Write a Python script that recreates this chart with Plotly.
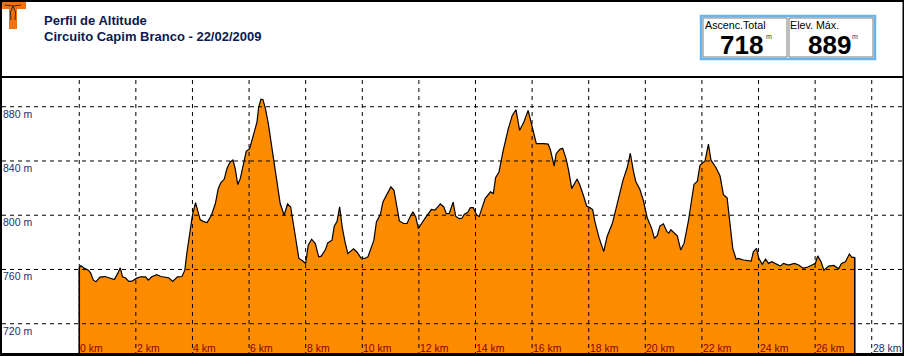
import plotly.graph_objects as go

W = 904
H = 356

km = [0, .06, .17, .32, .40, .50, .59, .73, .91, 1.09, 1.24, 1.36, 1.45, 1.53, 1.63, 1.75, 1.86, 2.03, 2.17, 2.34,
      2.44, 2.56, 2.74, 2.88, 3.03, 3.16, 3.30, 3.47, 3.63, 3.73, 3.80, 3.87, 3.94, 4.00, 4.11, 4.17, 4.27, 4.39, 4.52, 4.67,
      4.81, 4.91, 5.00, 5.12, 5.22, 5.33, 5.43, 5.51, 5.60, 5.69, 5.81, 5.90, 6.02, 6.18, 6.28, 6.34, 6.42, 6.49, 6.58, 6.68,
      6.80, 6.91, 7.01, 7.10, 7.24, 7.36, 7.47, 7.55, 7.65, 7.76, 7.89, 8.00, 8.09, 8.21, 8.34, 8.46, 8.55, 8.70, 8.78, 8.93,
      9.01, 9.11, 9.20, 9.29, 9.39, 9.49, 9.69, 9.82, 9.95, 10.09, 10.20, 10.32, 10.41, 10.50, 10.64, 10.73, 10.85, 11.01, 11.12, 11.22,
      11.31, 11.46, 11.58, 11.70, 11.79, 11.89, 11.98, 12.21, 12.44, 12.57, 12.76, 12.88, 12.97, 13.07, 13.21, 13.30, 13.42, 13.52, 13.61, 13.73,
      13.82, 13.92, 14.04, 14.13, 14.25, 14.34, 14.53, 14.63, 14.71, 14.83, 14.98, 15.16, 15.30, 15.43, 15.56, 15.71, 15.86, 15.98, 16.15, 16.40,
      16.57, 16.65, 16.78, 16.85, 16.98, 17.08, 17.20, 17.29, 17.40, 17.59, 17.69, 17.81, 17.93, 18.04, 18.14, 18.22, 18.37, 18.53, 18.65, 18.84,
      19.04, 19.22, 19.36, 19.47, 19.58, 19.66, 19.81, 19.93, 20.07, 20.22, 20.32, 20.42, 20.52, 20.64, 20.76, 20.83, 20.90, 21.13, 21.25, 21.37,
      21.52, 21.64, 21.72, 21.84, 21.93, 22.11, 22.23, 22.32, 22.50, 22.64, 22.76, 22.89, 23.00, 23.09, 23.21, 23.29, 23.47, 23.74, 23.82, 23.93,
      24.01, 24.13, 24.25, 24.35, 24.47, 24.65, 24.77, 24.88, 25.06, 25.27, 25.42, 25.57, 25.71, 25.89, 26.01, 26.09, 26.21, 26.31, 26.48, 26.66,
      26.83, 26.93, 27.07, 27.21, 27.30, 27.40]
elev = [761.2, 762.9, 761.0, 759.5, 757.5, 752.1, 750.9, 754.4, 754.8, 753.9, 752.6, 757.1, 761.2, 754.6, 753.9, 751.2, 751.4, 753.6, 754.6, 754.6,
        752.1, 754.6, 756.1, 754.8, 754.6, 753.9, 751.2, 754.6, 754.8, 759.5, 771.8, 781.6, 792.6, 800.0, 809.3, 803.7, 796.8, 795.3, 794.6, 800.0,
        808.6, 819.6, 823.8, 826.5, 834.4, 839.3, 840.7, 834.4, 822.6, 827.0, 839.3, 847.1, 849.1, 861.3, 868.7, 879.8, 885.6, 885.2, 878.5, 867.5,
        850.3, 833.1, 818.4, 808.6, 800.0, 808.3, 806.1, 795.1, 784.0, 768.1, 766.4, 764.4, 777.9, 782.3, 779.1, 769.3, 769.8, 774.7, 779.6, 781.6,
        791.9, 795.6, 806.1, 791.3, 780.3, 771.7, 775.2, 772.7, 768.5, 768.1, 769.3, 776.7, 781.6, 795.1, 800.7, 809.8, 814.7, 820.9, 818.4, 806.1,
        795.8, 793.9, 793.9, 799.3, 802.5, 798.8, 790.2, 797.5, 804.2, 803.7, 808.3, 806.1, 801.2, 801.2, 809.6, 799.3, 797.5, 797.8, 800.7, 802.2,
        805.6, 805.6, 800.2, 799.0, 807.4, 812.3, 817.2, 816.0, 827.7, 831.9, 847.9, 863.8, 873.6, 877.8, 862.6, 868.7, 877.3, 867.5, 852.8, 852.8,
        852.5, 847.9, 836.3, 845.4, 848.6, 849.3, 841.7, 833.1, 819.6, 826.7, 822.1, 814.7, 806.6, 805.6, 804.2, 795.1, 783.1, 773.2, 784.3, 794.2,
        810.3, 826.4, 835.0, 845.7, 832.6, 825.1, 818.9, 811.0, 797.9, 790.5, 783.1, 785.0, 792.2, 793.7, 788.0, 786.8, 789.3, 784.8, 774.4, 779.4,
        795.4, 810.3, 822.7, 825.1, 836.8, 840.0, 852.4, 840.7, 835.0, 828.9, 815.2, 812.8, 794.2, 775.6, 767.5, 768.2, 767.0, 766.2, 773.2, 775.6,
        768.2, 763.8, 767.7, 764.5, 765.7, 764.0, 762.5, 764.5, 763.3, 764.5, 763.3, 761.0, 761.5, 763.3, 764.5, 770.0, 765.7, 759.5, 762.5, 763.0,
        760.5, 764.5, 765.7, 771.4, 768.9, 768.9]

km_ticks = [0, 2, 4, 6, 8, 10, 12, 14, 16, 18, 20, 22, 24, 26, 28]
m_ticks = [720, 760, 800, 840, 880]

X_RANGE = [-2.80, 29.14]
Y_RANGE = [696.2, 958.7]


def px(x):
    return x / W


def py(y):
    return 1 - y / H


def rect(x0, y0, x1, y1, **kw):
    return dict(type="rect", xref="paper", yref="paper", x0=px(x0), x1=px(x1), y0=py(y0), y1=py(y1), **kw)


def stroke(pts, color="#3A2A20", width=1):
    d = "M " + " L ".join(f"{px(a):.5f},{py(b):.5f}" for a, b in pts)
    return dict(type="path", xref="paper", yref="paper", path=d, line=dict(color=color, width=width), layer="above")


def text(x, y, s, size, color="#000000", family="Liberation Sans", anchor="left"):
    return dict(xref="paper", yref="paper", x=px(x), y=py(y), text=s, showarrow=False, xanchor=anchor, yanchor="middle",
                borderpad=0, font=dict(size=size, color=color, family=family))


trace = go.Scatter(x=km, y=elev, mode="lines", fill="tozeroy", fillcolor="#FF8C00",
                   line=dict(color="#000000", width=1.2), hoverinfo="x+y")

shapes = []
grid = dict(color="#000000", width=1, dash="4px,4px")
for k in km_ticks:
    shapes.append(dict(type="line", xref="x", yref="paper", x0=k, x1=k, y0=0, y1=1, line=grid, layer="above"))
for m in m_ticks:
    shapes.append(dict(type="line", xref="paper", yref="y", x0=px(2), x1=px(902), y0=m, y1=m, line=grid, layer="above"))

# ends of the profile run down to the floor
for k, e in [(km[0], elev[0]), (km[-1], elev[-1])]:
    shapes.append(dict(type="line", xref="x", yref="y", x0=k, x1=k, y0=Y_RANGE[0], y1=e,
                       line=dict(color="#000000", width=1.6), layer="above"))

# header band and frame
shapes.append(rect(0, 0, W, 76, fillcolor="#FFFFFF", line_width=0, layer="above"))
shapes.append(rect(0, 76, W, 78, fillcolor="#000000", line_width=0, layer="above"))
shapes.append(rect(0, 0, W, 2, fillcolor="#000000", line_width=0, layer="above"))
shapes.append(rect(0, 0, 2, H, fillcolor="#000000", line_width=0, layer="above"))
shapes.append(rect(0, 353, W, H, fillcolor="#000000", line_width=0, layer="above"))
shapes.append(rect(902.5, 0, W, H, fillcolor="#000000", line_width=0, layer="above"))

# logo
shapes.append(rect(2, 2, 26, 9, fillcolor="#EC7416", line_width=0, layer="above"))
shapes.append(rect(9, 9, 17, 29, fillcolor="#EC7416", line_width=0, layer="above"))
shapes.append(stroke([(5, 5), (13, 6), (21, 5)]))
shapes.append(stroke([(13, 6), (10.5, 12), (11, 20)]))
shapes.append(stroke([(13, 6), (15.5, 12), (15, 20)]))

# stat boxes
shapes.append(rect(701, 16, 875, 59, fillcolor="#FFFFFF", line=dict(color="#66B5F0", width=2.5), layer="above"))
shapes.append(rect(703, 18, 787, 57, fillcolor="#FFFFFF", line=dict(color="#7F7F7F", width=1), layer="above"))
shapes.append(rect(789, 18, 873, 57, fillcolor="#FFFFFF", line=dict(color="#7F7F7F", width=1), layer="above"))

annotations = [
    text(43, 20, "<b>Perfil de Altitude</b>", 13, "#0A1A50"),
    text(43, 36, "<b>Circuito Capim Branco - 22/02/2009</b>", 13, "#0A1A50"),
    text(704, 25, "Ascenc.Total", 10.7),
    text(789, 25, "Elev. Máx.", 10.7),
    text(741, 45, "<b>718</b>", 26, anchor="center"),
    text(829, 45, "<b>889</b>", 26, anchor="center"),
    text(765, 37, "m", 7, color="#333333"),
    text(851, 37, "m", 7, color="#333333"),
]
for m in m_ticks:
    annotations.append(dict(xref="paper", yref="y", x=px(1), y=m, yshift=-7, text=f"{m} m", showarrow=False,
                            xanchor="left", yanchor="middle", font=dict(size=10.5, color="#1A2F6A", family="Liberation Sans")))
for k in km_ticks:
    col = "#8B0000" if k <= km[-1] else "#1A2F6A"
    annotations.append(dict(xref="x", yref="paper", x=k, y=py(347.5), xshift=-1, text=f"{k} km", showarrow=False,
                            xanchor="left", yanchor="middle", font=dict(size=10.5, color=col, family="Liberation Sans")))

layout = go.Layout(width=W, height=H, margin=dict(l=0, r=0, t=0, b=0), paper_bgcolor="#FFFFFF", plot_bgcolor="#FFFFFF",
                   showlegend=False, hovermode="closest", shapes=shapes, annotations=annotations,
                   xaxis=dict(range=X_RANGE, showgrid=False, zeroline=False, showticklabels=False, ticks=""),
                   yaxis=dict(range=Y_RANGE, showgrid=False, zeroline=False, showticklabels=False, ticks=""))

fig = go.Figure(data=[trace], layout=layout)
fig.write_html("out.html", config=dict(displayModeBar=False), default_width=W, default_height=H,
               post_script="document.body.style.margin='0';")
